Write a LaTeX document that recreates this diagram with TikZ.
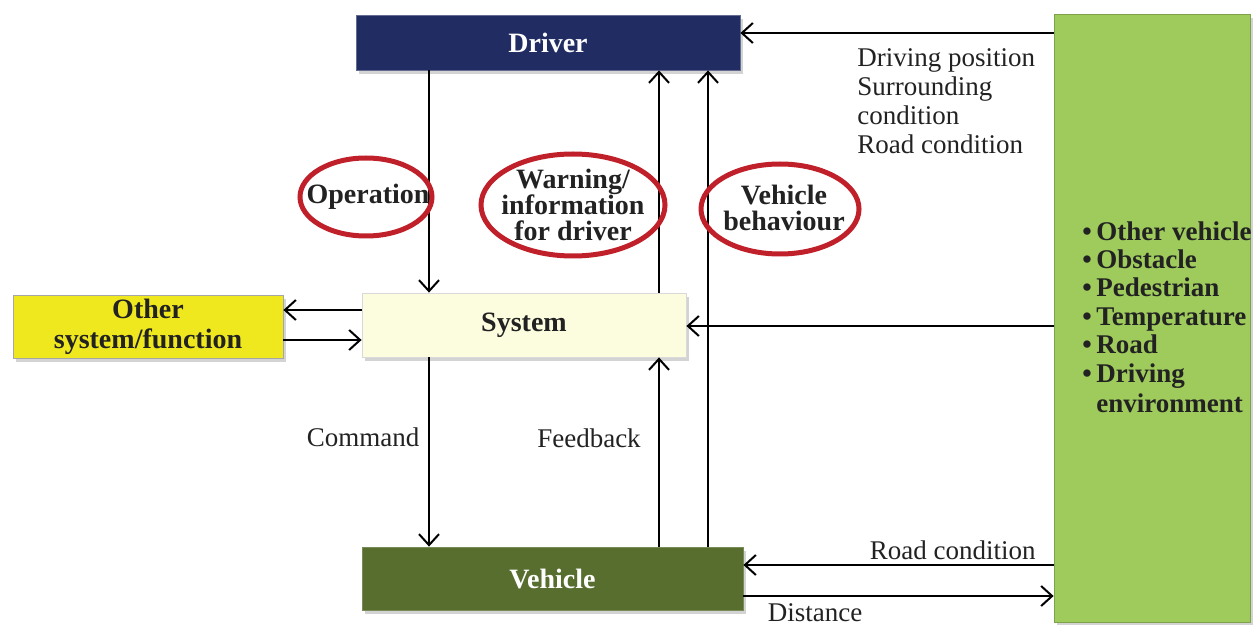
\documentclass[tikz,border=0pt]{standalone}
\usepackage{fontspec}
\setmainfont{Liberation Serif}
\usetikzlibrary{arrows.meta,shapes.geometric,shadows,calc}
\definecolor{navy}{HTML}{212D62}
\definecolor{paleyel}{HTML}{FCFCDF}
\definecolor{yel}{HTML}{F0E81E}
\definecolor{olive}{HTML}{586E2F}
\definecolor{envgreen}{HTML}{9ECB5B}
\definecolor{ringred}{HTML}{C0202A}
\definecolor{txt}{HTML}{222222}
\tikzset{
  boxbase/.style={rectangle, inner sep=0pt, font=\fontsize{14}{15}\selectfont\bfseries,
    drop shadow={shadow xshift=1.5pt, shadow yshift=-2pt, opacity=0.35}},
  arr/.style={-{Straight Barb[length=5.5pt,width=10pt,line width=1pt]}, line width=1pt, black},
  ring/.style={ellipse, draw=ringred, line width=2.5pt, inner sep=0pt},
  ringtext/.style={font=\fontsize{14}{13}\selectfont\bfseries, text=txt, align=center, inner sep=0pt},
  lbl/.style={font=\fontsize{13.5}{14.5}\selectfont, text=txt, inner sep=0pt}
}
\begin{document}
\begin{tikzpicture}[x=0.5pt,y=-0.5pt]
\useasboundingbox (0,0) rectangle (1256,625);
% boxes
\node[boxbase, fill=navy, draw=navy!70, text=white, minimum width=192pt, minimum height=27.5pt] (drv) at (548,42.5) {Driver};
\node[boxbase, fill=paleyel, draw=black!15, text=txt, minimum width=162pt, minimum height=32pt] (sys) at (524,325) {System};
\node[boxbase, fill=yel, draw=black!35, text=txt, minimum width=135pt, minimum height=31.5pt, align=center] (oth) at (148,326.5) {Other\\system/function};
\node[boxbase, fill=olive, draw=olive!80, text=white, minimum width=190.5pt, minimum height=31.5pt] (veh) at (552.5,578.5) {Vehicle};
\node[boxbase, fill=envgreen, draw=envgreen!80!black, minimum width=98pt, minimum height=304pt] (env) at (1152,318) {};
\node[font=\fontsize{13.5}{14.2}\selectfont\bfseries, text=txt, align=left, inner sep=0pt, anchor=north west] (envtxt) at (1082,221) {%
•\,Other vehicle\\•\,Obstacle\\•\,Pedestrian\\•\,Temperature\\•\,Road\\•\,Driving\\[1pt]\phantom{•\,}environment};

% helper coordinates
\coordinate (xa) at (429,0);
\coordinate (xb) at (659,0);
\coordinate (xc) at (708,0);
\coordinate (ya) at (0,33);
\coordinate (yb) at (0,326);
\coordinate (yc) at (0,310);
\coordinate (yd) at (0,340);
\coordinate (ye) at (0,565);
\coordinate (yf) at (0,596);

% connectors
\draw[arr] (drv.south -| xa) -- (sys.north -| xa);
\draw[arr] (sys.north -| xb) -- (drv.south -| xb);
\draw[arr] (veh.north -| xc) -- (drv.south -| xc);
\draw[arr] (env.west |- ya) -- (drv.east |- ya);
\draw[arr] (env.west |- yb) -- (sys.east |- yb);
\draw[arr] (sys.west |- yc) -- (oth.east |- yc);
\draw[arr] (oth.east |- yd) -- (sys.west |- yd);
\draw[arr] (sys.south -| xa) -- (veh.north -| xa);
\draw[arr] (veh.north -| xb) -- (sys.south -| xb);
\draw[arr] (env.west |- ye) -- (veh.east |- ye);
\draw[arr] (veh.east |- yf) -- (env.west |- yf);

% rings
\node[ring, minimum width=66pt, minimum height=39pt] (op) at (366,197) {};
\node[ringtext] (optxt) at (368,197) {Operation};
\node[ring, minimum width=92pt, minimum height=51pt] (warn) at (573,205) {};
\node[ringtext] (warntxt) at (573,205) {Warning/\\information\\for driver};
\node[ring, minimum width=79pt, minimum height=45pt] (beh) at (780,209) {};
\node[ringtext] (behtxt) at (784,208) {Vehicle\\behaviour};

% labels
\node[lbl, anchor=west, align=left, font=\fontsize{13.5}{14.6}\selectfont] (dp) at (857,101) {Driving position\\Surrounding\\condition\\Road condition};
\node[lbl] (cmd) at (363,437) {Command};
\node[lbl] (fb) at (589,438) {Feedback};
\node[lbl, anchor=east] (rc) at (1036,550) {Road condition};
\node[lbl] (dist) at (815,613) {Distance};
\end{tikzpicture}
\end{document}
